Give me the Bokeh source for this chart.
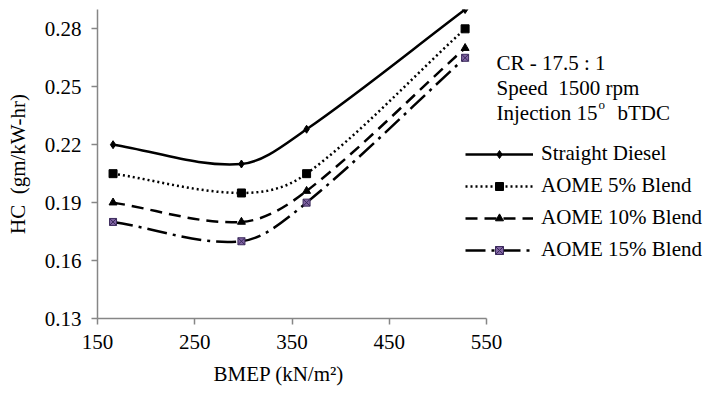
import numpy as np
from bokeh.plotting import figure
from bokeh.models import (ColumnDataSource, Legend, LegendItem, FixedTicker,
                          Range1d, Label, Title)
from bokeh.embed import file_html
from bokeh.resources import INLINE

# ---- data ----
bmep = [166, 298, 365, 528]
straight_diesel = [0.220, 0.210, 0.228, 0.290]
aome_5 = [0.205, 0.195, 0.205, 0.280]
aome_10 = [0.190, 0.180, 0.196, 0.270]
aome_15 = [0.180, 0.170, 0.190, 0.265]
series_names = ["Straight Diesel", "AOME 5% Blend", "AOME 10% Blend", "AOME 15% Blend"]
x_ticks = [150, 250, 350, 450, 550]
y_ticks = [0.13, 0.16, 0.19, 0.22, 0.25, 0.28]

FONT = "Liberation Serif"
AXIS_COLOR = "#868686"
NB = "\u00a0"

W, H = 704, 394
LEFT, TOP, BOTTOM = 97, 9, 76
AXIS_PX = 389.0  # pixel length of the 150..550 axis
x_end = 150 + 400.0 * (W - LEFT) / AXIS_PX

p = figure(width=W, height=H, output_backend="svg", toolbar_location=None,
           x_range=Range1d(150, x_end), y_range=Range1d(0.13, 0.29),
           min_border_left=LEFT, min_border_right=0, min_border_top=TOP,
           min_border_bottom=BOTTOM)
p.outline_line_color = None
p.xgrid.visible = False
p.ygrid.visible = False


def smooth_source(xs, ys):
    xs = np.asarray(xs, float)
    ys = np.asarray(ys, float)
    n = len(xs)
    m = np.zeros(n)
    for i in range(n):
        if i == 0:
            m[i] = (ys[1] - ys[0]) / (xs[1] - xs[0])
        elif i == n - 1:
            m[i] = (ys[-1] - ys[-2]) / (xs[-1] - xs[-2])
        else:
            m[i] = (ys[i + 1] - ys[i - 1]) / (xs[i + 1] - xs[i - 1])
    d = dict(x0=[], y0=[], x1=[], y1=[], cx0=[], cy0=[], cx1=[], cy1=[])
    for i in range(n - 1):
        h = (xs[i + 1] - xs[i]) / 3.0
        d["x0"].append(xs[i]); d["y0"].append(ys[i])
        d["x1"].append(xs[i + 1]); d["y1"].append(ys[i + 1])
        d["cx0"].append(xs[i] + h); d["cy0"].append(ys[i] + m[i] * h)
        d["cx1"].append(xs[i + 1] - h); d["cy1"].append(ys[i + 1] - m[i + 1] * h)
    return ColumnDataSource(d)


series = [straight_diesel, aome_5, aome_10, aome_15]
dashes = ["solid", "2 3", "12 7", "20 6 3 6"]
markers = ["diamond", "square", "triangle", "square_x"]
msizes = [8, 8, 8, 7]
mfill = ["black", "black", "black", "#8064A2"]
mline = ["black", "black", "black", "#3b2a5c"]

items = []
for name, ys, dash, mk, ms, fc, lc in zip(series_names, series, dashes, markers,
                                           msizes, mfill, mline):
    src = smooth_source(bmep, ys)
    r1 = p.bezier(x0="x0", y0="y0", x1="x1", y1="y1", cx0="cx0", cy0="cy0",
                  cx1="cx1", cy1="cy1", source=src, line_color="black",
                  line_width=2.5, line_dash=dash)
    r2 = p.scatter(bmep, ys, marker=mk, size=ms, fill_color=fc, line_color=lc,
                   line_width=1)
    items.append(LegendItem(label=name, renderers=[r1, r2]))

legend = Legend(items=items, location=(368, 56), border_line_alpha=0,
                background_fill_alpha=0, padding=0, margin=0, spacing=7,
                glyph_width=68, glyph_height=20, label_height=20,
                label_standoff=8, label_text_font=FONT,
                label_text_font_size="21px", label_text_color="black")
p.add_layout(legend, "center")

for ax in (p.xaxis[0], p.yaxis[0]):
    ax.axis_line_color = AXIS_COLOR
    ax.axis_line_width = 1.5
    ax.major_tick_line_color = AXIS_COLOR
    ax.major_tick_line_width = 1.5
    ax.major_tick_out = 6
    ax.major_tick_in = 0
    ax.minor_tick_line_color = None
    ax.major_label_text_font = FONT
    ax.major_label_text_font_size = "21px"
    ax.major_label_text_color = "black"
    ax.axis_label_text_font = FONT
    ax.axis_label_text_font_size = "21px"
    ax.axis_label_text_font_style = "normal"
    ax.axis_label_text_color = "black"

p.xaxis.bounds = (150, 550)
p.xaxis.ticker = FixedTicker(ticks=x_ticks)
p.yaxis.ticker = FixedTicker(ticks=y_ticks)
p.yaxis.axis_label = "HC" + NB + " (gm/kW-hr)"
p.xaxis.major_label_standoff = 10
p.yaxis.major_label_standoff = 10
p.yaxis.axis_label_standoff = 12

xtitle = Title(text="BMEP (kN/m²)", align="left", offset=116, standoff=17,
               text_font=FONT, text_font_size="21px", text_font_style="normal",
               text_color="black")
p.add_layout(xtitle, "below")

notes = [("CR - 17.5 : 1", 399, 256, "21px"),
         ("Speed" + NB + NB + "1500 rpm", 399, 231, "21px"),
         ("Injection 15", 399, 206, "21px"),
         ("o", 501, 214, "13px"),
         ("bTDC", 520, 206, "21px")]
for txt, sx, sy, fs in notes:
    p.add_layout(Label(x=sx, y=sy, x_units="screen", y_units="screen", text=txt,
                       text_font=FONT, text_font_size=fs, text_color="black",
                       text_baseline="alphabetic"))

open("out.html", "w").write(file_html(p, INLINE))
